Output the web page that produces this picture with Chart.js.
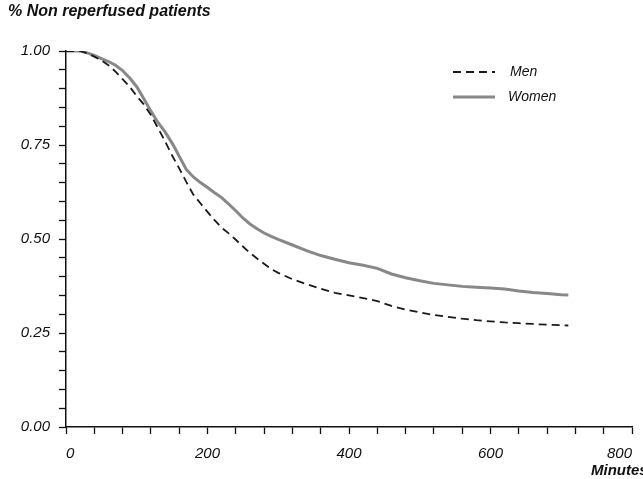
<!DOCTYPE html>
<html>
<head>
<meta charset="utf-8">
<script src="https://cdn.jsdelivr.net/npm/chart.js@4"></script>
<style>
  html, body { margin: 0; padding: 0; background: #fff; }
  #wrap { position: relative; width: 643px; height: 479px; overflow: hidden; }
  .lbl { position: absolute; font-family: "Liberation Sans", Arial, sans-serif; font-weight: bold; font-style: italic; color: #111; white-space: nowrap; }
</style>
</head>
<body>
<div id="wrap">
  <canvas id="km" width="643" height="479"></canvas>
  <div class="lbl" style="left:8px; top:2px; font-size:16px;">% Non reperfused patients</div>
  <div class="lbl" style="left:591px; top:461px; font-size:15px;">Minutes</div>
</div>
<script>
// Time points (minutes)
const minutes = [0, 10, 20, 30, 40, 50, 60, 70, 80, 90, 100, 110, 120, 130, 140, 150, 160, 170, 180, 190,
  200, 210, 220, 230, 240, 250, 260, 270, 280, 290, 300, 320, 340, 360, 380, 400, 420, 440, 460, 480,
  500, 520, 540, 560, 580, 600, 620, 640, 660, 680, 700, 710];

// Proportion of non reperfused patients
const men = [1.00, 1.00, 1.00, 0.994, 0.985, 0.975, 0.962, 0.945, 0.925, 0.905, 0.88, 0.858, 0.83, 0.795, 0.76, 0.722, 0.688, 0.652, 0.618, 0.595,
  0.572, 0.55, 0.53, 0.515, 0.498, 0.48, 0.463, 0.448, 0.434, 0.42, 0.41, 0.393, 0.38, 0.368, 0.357, 0.35, 0.343, 0.335, 0.322, 0.312,
  0.305, 0.298, 0.293, 0.288, 0.284, 0.281, 0.278, 0.276, 0.274, 0.272, 0.271, 0.27];
const women = [1.00, 1.00, 1.00, 0.995, 0.988, 0.98, 0.972, 0.962, 0.948, 0.928, 0.905, 0.873, 0.84, 0.81, 0.785, 0.755, 0.72, 0.685, 0.665, 0.65,
  0.637, 0.623, 0.61, 0.593, 0.575, 0.556, 0.54, 0.527, 0.516, 0.507, 0.499, 0.484, 0.469, 0.456, 0.446, 0.437, 0.43, 0.422, 0.407, 0.397,
  0.389, 0.382, 0.378, 0.374, 0.372, 0.37, 0.367, 0.362, 0.358, 0.355, 0.352, 0.351];

const seriesNames = ['Men', 'Women'];
const xMajor = [0, 200, 400, 600, 800];
const yMajor = [0, 0.25, 0.5, 0.75, 1.0];

const FONT = '"Liberation Sans", Arial, sans-serif';

function toPoints(xs, ys) {
  return xs.map((x, i) => ({ x: x, y: ys[i] }));
}

// draws the little legend inside the plot, top right
const insideLegend = {
  id: 'insideLegend',
  afterDatasetsDraw(chart) {
    const ctx = chart.ctx;
    const rows = [{ y: 72, text: 510 }, { y: 97, text: 508 }];
    chart.data.datasets.forEach((ds, i) => {
      ctx.save();
      ctx.strokeStyle = ds.borderColor;
      ctx.lineWidth = ds.borderWidth;
      ctx.setLineDash(ds.borderDash || []);
      ctx.beginPath();
      ctx.moveTo(453, rows[i].y);
      ctx.lineTo(495, rows[i].y);
      ctx.stroke();
      ctx.setLineDash([]);
      ctx.fillStyle = '#111';
      ctx.font = 'italic 14px ' + FONT;
      ctx.textBaseline = 'middle';
      ctx.fillText(ds.label, rows[i].text, rows[i].y);
      ctx.restore();
    });
  }
};

const chart = new Chart(document.getElementById('km').getContext('2d'), {
  type: 'line',
  data: {
    datasets: [{
      label: seriesNames[0],
      data: toPoints(minutes, men),
      borderColor: '#1a1a1a',
      borderWidth: 1.8,
      borderDash: [8, 5],
      tension: 0,
      pointRadius: 0,
      fill: false
    }, {
      label: seriesNames[1],
      data: toPoints(minutes, women),
      borderColor: '#888888',
      borderWidth: 3,
      tension: 0,
      pointRadius: 0,
      fill: false
    }]
  },
  options: {
    responsive: false,
    devicePixelRatio: 1,
    animation: false,
    layout: { padding: { top: 51, right: 11, left: 0, bottom: 0 } },
    plugins: { legend: { display: false }, tooltip: { enabled: false } },
    scales: {
      x: {
        type: 'linear',
        min: 0,
        max: 800,
        border: { display: true, color: '#111', width: 1.5 },
        grid: { drawOnChartArea: false, drawTicks: true, tickLength: 7, tickColor: '#111', tickWidth: 1.3 },
        ticks: {
          stepSize: 40,
          autoSkip: false,
          maxRotation: 0,
          align: 'inner',
          padding: 11,
          color: '#111',
          font: { family: FONT, size: 15, style: 'italic' },
          callback: (v) => xMajor.includes(v) ? String(v) : ''
        },
        afterFit: (scale) => {
          scale.height = 52;
          scale.paddingLeft = 0;
          scale.paddingRight = 0;
        }
      },
      y: {
        min: 0,
        max: 1,
        border: { display: true, color: '#111', width: 1.5 },
        grid: { drawOnChartArea: false, drawTicks: true, tickLength: 7, tickColor: '#111', tickWidth: 1.3 },
        ticks: {
          stepSize: 0.05,
          autoSkip: false,
          padding: 9,
          color: '#111',
          font: { family: FONT, size: 15, style: 'italic' },
          callback: (v) => {
            const r = Math.round(v * 100) / 100;
            return yMajor.includes(r) ? r.toFixed(2) : '';
          }
        },
        afterFit: (scale) => {
          scale.width = 66;
        }
      }
    }
  },
  plugins: [insideLegend]
});
</script>
</body>
</html>
